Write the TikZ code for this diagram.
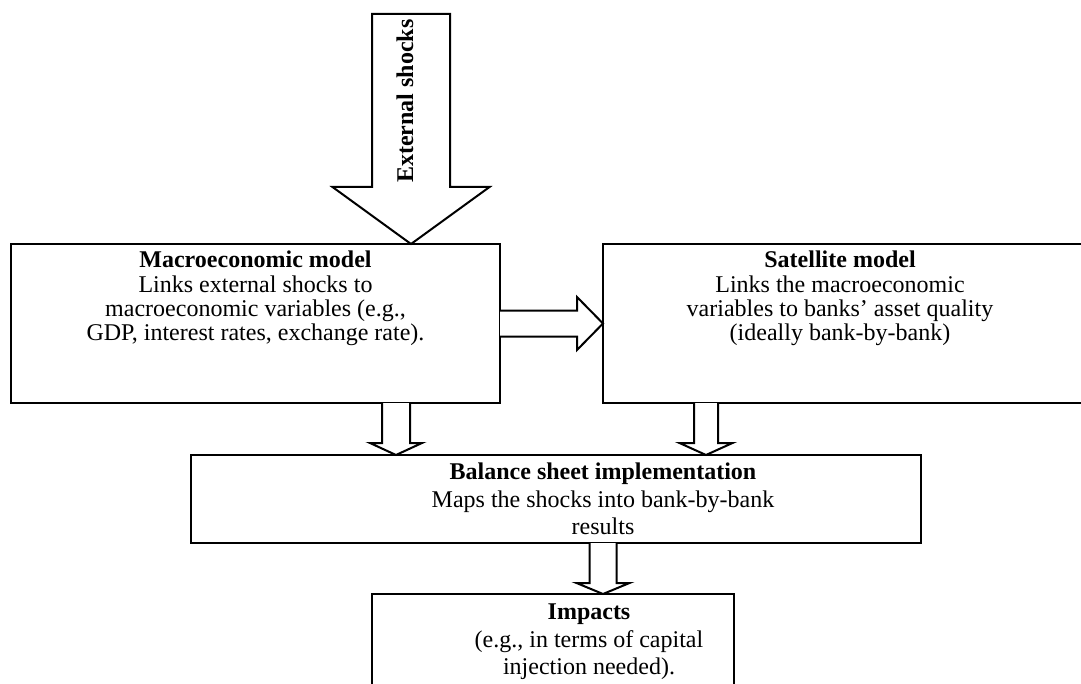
\documentclass[tikz,border=0pt]{standalone}
\usepackage{fontspec}
\setmainfont{Liberation Serif}
\usepackage{tikz}
\usetikzlibrary{calc, positioning}

% fat arrow pointing down: #1 top, #2 tip, #3 half shaft, #4 half head, #5 head length
\newcommand{\fatdown}[5]{%
	\draw[blockarrow] ($(#1)+(-#3,0)$) -- ($(#1|-#2)+(-#3,-#5)$) -- ($(#1|-#2)+(-#4,-#5)$) -- (#2)
		-- ($(#1|-#2)+(#4,-#5)$) -- ($(#1|-#2)+(#3,-#5)$) -- ($(#1)+(#3,0)$);
}
% fat arrow pointing right
\newcommand{\fatright}[5]{%
	\draw[blockarrow] ($(#1)+(0,-#3)$) -- ($(#2|-#1)+(-#5,-#3)$) -- ($(#2|-#1)+(-#5,-#4)$) -- (#2)
		-- ($(#2|-#1)+(-#5,#4)$) -- ($(#2|-#1)+(-#5,#3)$) -- ($(#1)+(0,#3)$);
}

\begin{document}
\begin{tikzpicture}[
	x=0.5pt,
	y=-0.5pt,
	line width=1pt,
	block/.style={draw, inner sep=0pt, outer sep=0pt},
	blockarrow/.style={draw, line join=miter, fill=white},
	boxtext/.style={align=center, inner sep=0pt, font=\fontsize{12}{12.2}\selectfont},
	widetext/.style={align=center, inner sep=0pt, font=\fontsize{12}{13.8}\selectfont}
]
\useasboundingbox (0,0) rectangle (1081,684);

\node[block, minimum width=244.5pt, minimum height=79.5pt] (mac) at (255.5,323.5) {};
\node[block, minimum width=241pt, minimum height=79.5pt] (sat) at (844,323.5) {};
\node[block, minimum width=365pt, minimum height=44pt] (bal) at (556,499) {};
\node[block, minimum width=181pt, minimum height=55pt] (imp) at (553,649) {};

\node[boxtext, below=3pt of mac.north] (mactext) {\textbf{Macroeconomic model}\\Links external shocks to\\macroeconomic variables (e.g.,\\GDP, interest rates, exchange rate).};
\node[boxtext, below=3pt of sat.north, xshift=-2pt] (sattext) {\textbf{Satellite model}\\Links the macroeconomic\\variables to banks’ asset quality\\(ideally bank-by-bank)};
\node[widetext, anchor=north] (baltext) at ($(bal.north)+(47,7)$) {\textbf{Balance sheet implementation}\\Maps the shocks into bank-by-bank\\results};
\node[widetext, anchor=north] (imptext) at ($(imp.north)+(36,9)$) {\textbf{Impacts}\\(e.g., in terms of capital\\injection needed).};

% external shocks
\coordinate (shocktip) at ($(mac.north)+(155.5,0)$);
\draw[blockarrow] ($(shocktip)+(-39,-230)$) -- ($(shocktip)+(-39,-57)$) -- ($(shocktip)+(-78.5,-57)$) -- (shocktip)
	-- ($(shocktip)+(78.5,-57)$) -- ($(shocktip)+(39,-57)$) -- ($(shocktip)+(39,-230)$) -- cycle;
\node[rotate=90, inner sep=0pt, font=\fontsize{12}{13.8}\selectfont\bfseries] (shocklabel) at ($(shocktip)+(-6,-143)$) {External shocks};

% links between the boxes
\coordinate (m2s) at (mac.east);
\coordinate (m2stip) at (m2s -| sat.west);
\fatright{m2s}{m2stip}{13}{26.5}{26}

\coordinate (m2b) at ($(mac.south)+(140.5,0)$);
\coordinate (m2btip) at (m2b |- bal.north);
\fatdown{m2b}{m2btip}{14}{26}{12}

\coordinate (s2b) at ($(sat.south)+(-138,0)$);
\coordinate (s2btip) at (s2b |- bal.north);
\fatdown{s2b}{s2btip}{12}{26.5}{12}

\coordinate (b2i) at ($(bal.south)+(47,0)$);
\coordinate (b2itip) at (b2i |- imp.north);
\fatdown{b2i}{b2itip}{13.5}{26.5}{11}
\end{tikzpicture}
\end{document}
